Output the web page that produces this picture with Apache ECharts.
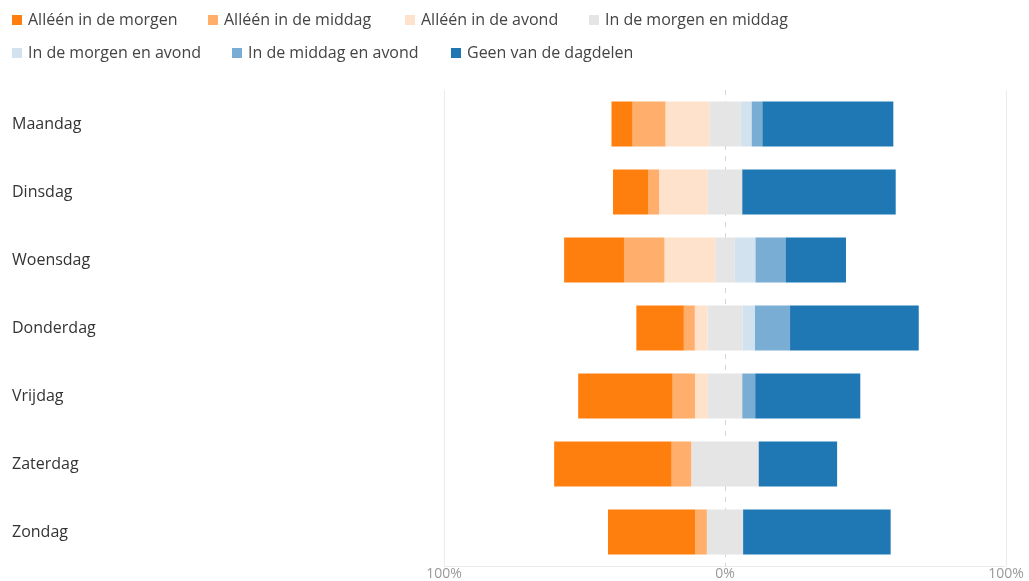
<!DOCTYPE html>
<html>
<head>
<meta charset="utf-8">
<script src="https://cdn.jsdelivr.net/npm/echarts@6/dist/echarts.min.js"></script>
<style>
  html, body { margin: 0; padding: 0; background: #fff; }
  #chart { width: 1029px; height: 581px; }
</style>
</head>
<body>
<div id="chart"></div>
<script>
// Categories (top to bottom)
const days = ['Maandag', 'Dinsdag', 'Woensdag', 'Donderdag', 'Vrijdag', 'Zaterdag', 'Zondag'];

// Series names
const names = [
  'Alléén in de morgen',
  'Alléén in de middag',
  'Alléén in de avond',
  'In de morgen en middag',
  'In de morgen en avond',
  'In de middag en avond',
  'Geen van de dagdelen'
];

// Percentages per day
const alleenMorgen   = [7.5, 12.6, 21.3, 16.9, 33.6, 41.8, 31.1];
const alleenMiddag   = [11.7, 3.8, 14.4, 3.9, 8.0, 7.0, 4.1];
const alleenAvond    = [15.6, 17.3, 18.1, 4.5, 4.5, 0, 0];
const morgenMiddag   = [11.2, 12.3, 6.9, 12.5, 12.3, 24.0, 12.9];
const morgenAvond    = [3.9, 0, 7.4, 4.4, 0, 0, 0];
const middagAvond    = [3.8, 0, 10.7, 12.5, 4.6, 0, 0];
const geen           = [46.6, 54.6, 21.5, 45.8, 37.4, 27.9, 52.5];

// Axis ticks
const xTicks = { min: -100, max: 100, interval: 100 };

const colors = ['#ff7f0e', '#ffae6b', '#ffe2cc', '#e5e5e5', '#d2e3ef', '#7aadd3', '#1f77b4'];
const FONT = '"Open Sans", "Noto Sans", sans-serif';

// Legend item placement (layout only)
const legendLeft = [12, 208, 405, 589, 12, 232, 451];
const legendTop  = [12, 12, 12, 12, 45, 45, 45];

const neg = arr => arr.map(v => -v);
const halfNeg = arr => arr.map(v => -v / 2);
const halfPos = arr => arr.map(v => v / 2);

function bar(name, data, color) {
  return {
    name: name,
    type: 'bar',
    stack: 'total',
    barWidth: 45,
    data: data,
    itemStyle: { color: color },
    emphasis: { disabled: true }
  };
}

const series = [
  bar(names[3], halfNeg(morgenMiddag), colors[3]),
  bar(names[2], neg(alleenAvond), colors[2]),
  bar(names[1], neg(alleenMiddag), colors[1]),
  bar(names[0], neg(alleenMorgen), colors[0]),
  bar(names[3], halfPos(morgenMiddag), colors[3]),
  bar(names[4], morgenAvond, colors[4]),
  bar(names[5], middagAvond, colors[5]),
  bar(names[6], geen, colors[6])
];

const legends = names.map((n, i) => ({
  left: legendLeft[i],
  top: legendTop[i],
  padding: 0,
  itemWidth: 10,
  itemHeight: 10,
  icon: 'rect',
  data: [n],
  textStyle: { fontFamily: FONT, fontSize: 16, color: '#444', padding: [0, 0, 0, 1] }
}));

const chart = echarts.init(document.getElementById('chart'));
chart.setOption({
  animation: false,
  color: colors,
  textStyle: { fontFamily: FONT },
  legend: legends,
  grid: { left: 444, right: 23, top: 90, bottom: 14.5, containLabel: false },
  xAxis: [
    {
      type: 'value',
      min: xTicks.min, max: xTicks.max, interval: xTicks.interval,
      axisLine: { show: true, lineStyle: { color: '#ebebeb', width: 1 } },
      axisTick: { show: false },
      axisLabel: {
        formatter: v => Math.abs(v) + '%',
        color: '#999', fontSize: 14, margin: 1, fontFamily: FONT
      },
      splitLine: { show: true, lineStyle: { color: ['#ebebeb', 'rgba(0,0,0,0)', '#ebebeb'], width: 1 } }
    },
    {
      type: 'value',
      position: 'bottom',
      min: xTicks.min, max: xTicks.max, interval: xTicks.interval,
      axisLine: { show: false },
      axisTick: { show: false },
      axisLabel: { show: false },
      splitLine: { show: true, lineStyle: { color: ['rgba(0,0,0,0)', '#d4d4d4', 'rgba(0,0,0,0)'], type: [5, 6], width: 1 } }
    }
  ],
  yAxis: {
    type: 'category',
    inverse: true,
    data: days,
    axisLine: { show: false },
    axisTick: { show: false },
    axisLabel: { align: 'left', margin: 432, color: '#333', fontSize: 16, fontFamily: FONT, padding: [3, 0, 0, 0] }
  },
  series: series
});
</script>
</body>
</html>
